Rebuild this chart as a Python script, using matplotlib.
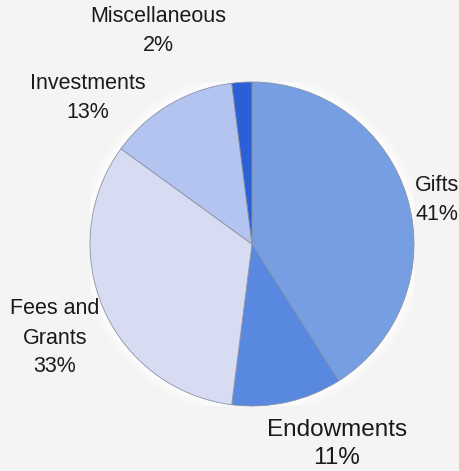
import matplotlib
matplotlib.use("Agg")
import matplotlib.pyplot as plt

plt.rcParams['font.family'] = ['Liberation Sans', 'DejaVu Sans']

# data (clockwise from 12 o'clock)
categories = ["Gifts", "Endowments", "Fees and\nGrants", "Investments", "Miscellaneous"]
shares = [41, 11, 33, 13, 2]
colors = ["#769ee3", "#5888e0", "#d8dcf3", "#b4c4f0", "#2b5fd6"]

# label anchor positions in pixels (x, y from top) and alignment
label_pos = [(415, 200, "left"), (337, 444, "center"), (55, 338, "center"),
             (88, 98, "center"), (158, 31, "center")]
label_size = [15.5, 17.5, 15.5, 15.5, 15.5]
label_spacing = [1.5, 1.33, 1.5, 1.5, 1.5]

W, H = 460, 471
fig = plt.figure(figsize=(W / 100, H / 100), dpi=100)
fig.patch.set_facecolor("#f4f4f4")

cx, cy, r = 252, 244, 162
ax = fig.add_axes([(cx - r) / W, (H - cy - r) / H, 2 * r / W, 2 * r / H])
ax.set_facecolor("none")

# soft halo behind pie
for k, a in [(1.06, 0.35), (1.03, 0.5)]:
    ax.add_patch(plt.Circle((0, 0), k, color="white", alpha=a, lw=0, zorder=0))

ax.pie(shares, colors=colors, startangle=90, counterclock=False, radius=1,
       wedgeprops=dict(edgecolor="#8a93a8", linewidth=0.6))
ax.set_xlim(-1, 1)
ax.set_ylim(-1, 1)
ax.set_aspect("auto")
ax.axis("off")

for name, val, (px, py, ha), fs, ls in zip(categories, shares, label_pos, label_size, label_spacing):
    fig.text(px / W, 1 - py / H, "%s\n%d%%" % (name, val), ha=ha, va="center",
             fontsize=fs, color="#1a1a1a", linespacing=ls, multialignment="center")

fig.savefig("out.png", dpi=100, facecolor=fig.get_facecolor())
